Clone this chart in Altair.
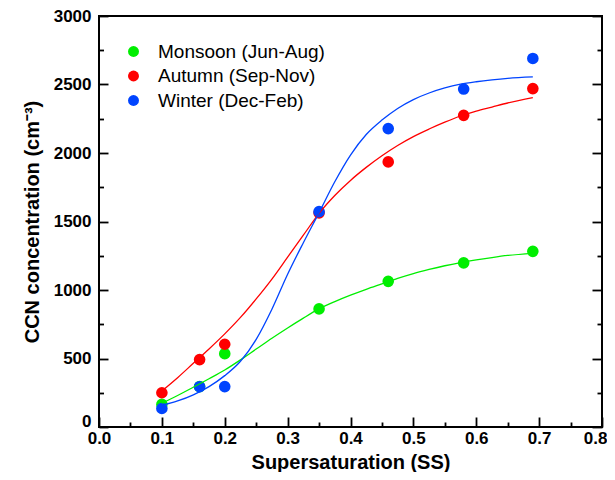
import altair as alt
import pandas as pd

# Measured data points
ss = [0.1, 0.16, 0.2, 0.35, 0.46, 0.58, 0.69]
monsoon = [165, 295, 535, 862, 1063, 1198, 1282]
autumn = [250, 492, 604, 1563, 1935, 2275, 2470]
winter = [135, 294, 295, 1572, 2178, 2467, 2690]

# Fitted curves
fit_ss = [0.1, 0.125, 0.15, 0.175, 0.2, 0.225, 0.25, 0.275, 0.3, 0.325, 0.35,
          0.375, 0.4, 0.425, 0.45, 0.475, 0.5, 0.525, 0.55, 0.575, 0.6, 0.625,
          0.65, 0.69]
fit_monsoon = [173, 230, 290, 352, 416, 490, 569, 648, 723, 795, 862,
               915, 962, 1005, 1045, 1085, 1120, 1150, 1177, 1200, 1220, 1237,
               1252, 1268]
fit_autumn = [263, 360, 465, 570, 680, 800, 935, 1080, 1240, 1400, 1560,
              1690, 1800, 1895, 1980, 2055, 2120, 2175, 2225, 2270, 2305, 2335,
              2365, 2405]
fit_winter = [158, 190, 235, 295, 375, 480, 640, 860, 1115, 1345, 1565,
              1790, 1985, 2135, 2240, 2325, 2390, 2438, 2475, 2502, 2520, 2534,
              2545, 2555]

seasons = ["Monsoon (Jun-Aug)", "Autumn (Sep-Nov)", "Winter (Dec-Feb)"]
colors = ["#00ee00", "#ff0000", "#0044ff"]

x_major = [0.0, 0.1, 0.2, 0.3, 0.4, 0.5, 0.6, 0.7, 0.8]
x_minor = [0.05, 0.15, 0.25, 0.35, 0.45, 0.55, 0.65, 0.75]
y_major = [0, 500, 1000, 1500, 2000, 2500, 3000]
y_minor = [250, 750, 1250, 1750, 2250, 2750]

FONT = "Liberation Sans"

pts = pd.DataFrame(
    [{"ss": x, "ccn": v, "season": seasons[i]}
     for i, vals in enumerate([monsoon, autumn, winter])
     for x, v in zip(ss, vals)]
)
fits = pd.DataFrame(
    [{"ss": x, "ccn": v, "season": seasons[i]}
     for i, vals in enumerate([fit_monsoon, fit_autumn, fit_winter])
     for x, v in zip(fit_ss, vals)]
)

xs = alt.Scale(domain=[0, 0.8], nice=False, zero=False)
ys = alt.Scale(domain=[0, 3000], nice=False)
cs = alt.Scale(domain=seasons, range=colors)


def tick_axis(orient, values, size, **kw):
    base = dict(orient=orient, values=values, offset=-size, tickSize=size,
                tickWidth=1.8, tickColor="black", domain=False, grid=False)
    if "title" not in kw:
        base["title"] = None
    if "labels" not in kw:
        base["labels"] = False
    base.update(kw)
    return alt.Axis(**base)


x_main = tick_axis("bottom", x_major, 10, labels=True, format=".1f",
                   labelFont=FONT, labelFontSize=17, labelFontWeight="bold",
                   labelColor="black", labelPadding=3, labelFlush=False,
                   labelOverlap=False,
                   labelAlign={"condition": {"test": "datum.value >= 0.79",
                                             "value": "right"},
                               "value": "center"},
                   labelOffset={"condition": {"test": "datum.value >= 0.79",
                                              "value": 5},
                                "value": 0},
                   title="Supersaturation (SS)", titleFont=FONT,
                   titleFontSize=20, titleFontWeight="bold",
                   titleColor="black", titlePadding=6)
y_main = tick_axis("left", y_major, 9, labels=True, format="d",
                   labelFont=FONT, labelFontSize=17, labelFontWeight="bold",
                   labelColor="black", labelPadding=8, labelFlush=False,
                   labelOverlap=False,
                   labelOffset={"condition": {"test": "datum.value == 0",
                                              "value": -6},
                                "value": 0},
                   title="CCN concentration (cm⁻³)", titleFont=FONT,
                   titleFontSize=20, titleFontWeight="bold",
                   titleColor="black", titlePadding=11)

points = alt.Chart(pts).mark_circle(size=135, opacity=1).encode(
    x=alt.X("ss:Q", scale=xs, axis=x_main),
    y=alt.Y("ccn:Q", scale=ys, axis=y_main),
    color=alt.Color("season:N", scale=cs, legend=alt.Legend(
        title=None, orient="none", legendX=25, legendY=26,
        labelFont=FONT, labelFontSize=19, labelColor="black", labelLimit=400,
        symbolType="circle", symbolSize=120, symbolStrokeWidth=0,
        labelOffset=15, rowPadding=4.5, padding=0)),
)

curves = alt.Chart(fits).mark_line(strokeWidth=1.3, interpolate="monotone").encode(
    x=alt.X("ss:Q", scale=xs, axis=tick_axis("bottom", x_minor, 5)),
    y=alt.Y("ccn:Q", scale=ys, axis=tick_axis("left", y_minor, 4.5)),
    color=alt.Color("season:N", scale=cs, legend=None),
    detail="season:N",
)

right_major = alt.Chart(pts).mark_circle(opacity=0).encode(
    x=alt.X("ss:Q", scale=xs, axis=None),
    y=alt.Y("ccn:Q", scale=ys, axis=tick_axis("right", y_major, 10)),
)
right_minor = alt.Chart(pts).mark_circle(opacity=0).encode(
    x=alt.X("ss:Q", scale=xs, axis=None),
    y=alt.Y("ccn:Q", scale=ys, axis=tick_axis("right", y_minor, 5)),
)

chart = alt.layer(points, curves, right_major, right_minor).resolve_axis(
    x="independent", y="independent"
).resolve_legend(color="independent").properties(
    width=503, height=411,
    autosize=alt.AutoSizeParams(type="none"),
    padding={"left": 91, "top": 8, "right": 5, "bottom": 45},
).configure_view(stroke="black", strokeWidth=2)

chart.save("out.html", embed_options={"renderer": "svg", "actions": False})
